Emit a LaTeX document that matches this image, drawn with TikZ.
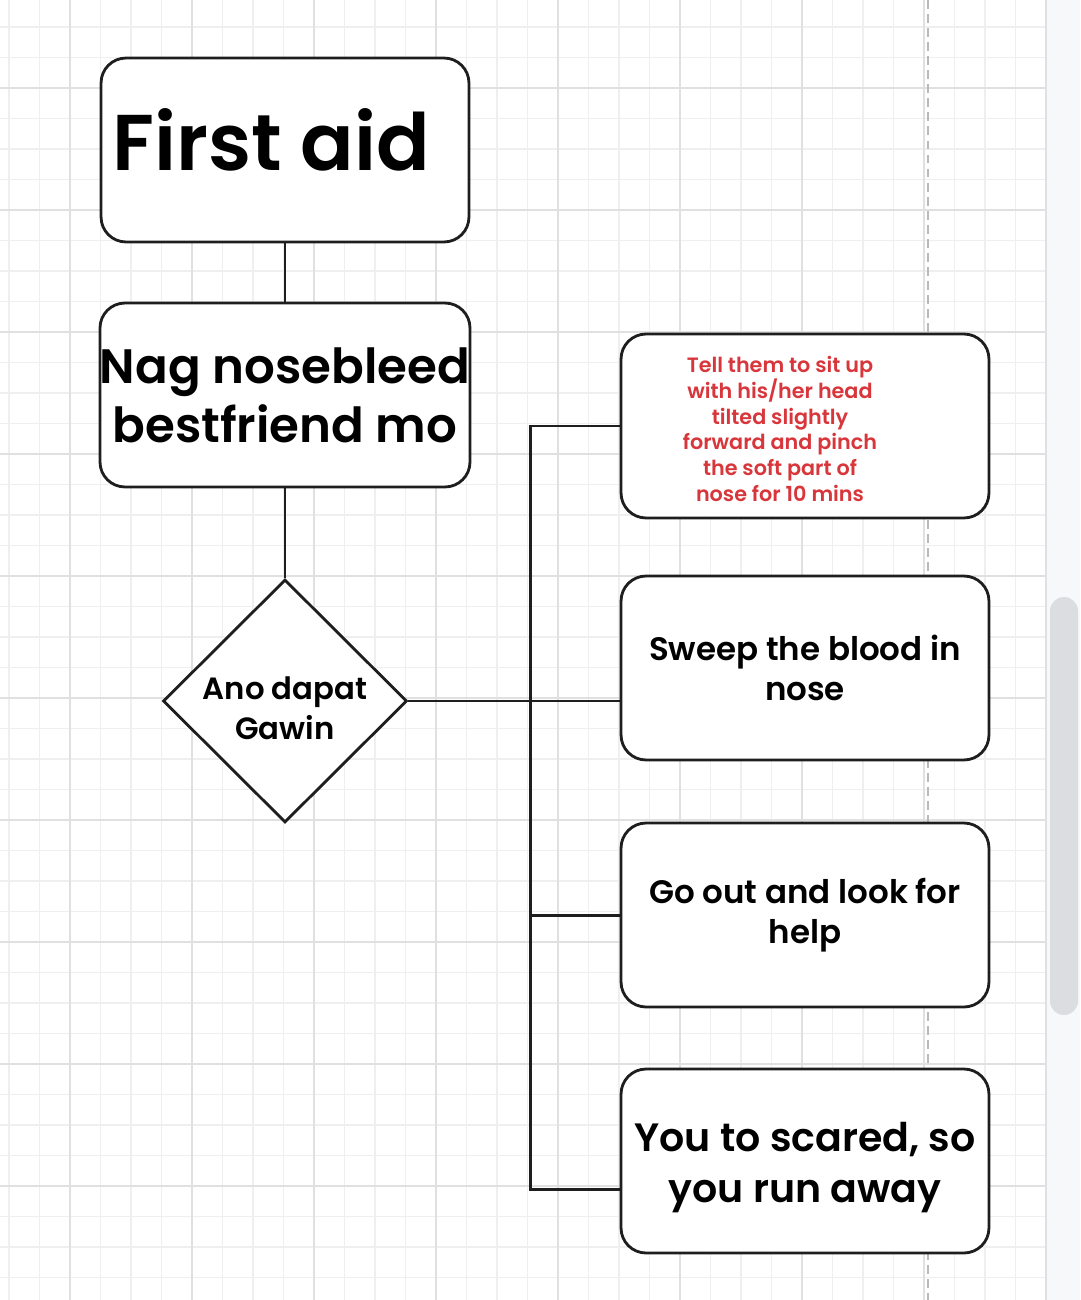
\documentclass[tikz,border=0pt]{standalone}
\usepackage{fontspec}
\setmainfont{Poppins}[BoldFont={Poppins SemiBold}]
\usepackage{tikz}
\usetikzlibrary{positioning, shapes.geometric, calc}
\definecolor{gridmaj}{HTML}{E0E0E2}
\definecolor{gridmin}{HTML}{EFEFF1}
\definecolor{redtxt}{HTML}{D8363B}
\definecolor{edge}{HTML}{1E1E1E}
\definecolor{sidebar}{HTML}{F7F8FA}
\definecolor{thumb}{HTML}{DCDDE1}

\begin{document}
\begin{tikzpicture}[x=0.02cm, y=-0.02cm,
    box/.style={rectangle, rounded corners=0.5cm, draw=edge, line width=1.6pt, fill=white, minimum width=7.36cm, minimum height=3.68cm, inner sep=0pt, align=center},
    decision/.style={diamond, draw=edge, line width=1.6pt, fill=white, minimum width=4.88cm, minimum height=4.86cm, inner sep=0pt, align=center},
    conn/.style={draw=edge, line width=1.7pt}]
    \useasboundingbox (0,0) rectangle (1080,1300);
    % Grid
    \begin{scope}
        \clip (0,0) rectangle (1047,1300);
        \foreach \i in {-2,...,32}
            \draw[gridmin, line width=0.8pt] (70+30.5*\i,0) -- (70+30.5*\i,1300);
        \foreach \j in {-2,...,39}
            \draw[gridmin, line width=0.8pt] (0,88+30.5*\j) -- (1047,88+30.5*\j);
        \foreach \i in {0,4,...,32}
            \draw[gridmaj, line width=1pt] (70+30.5*\i,0) -- (70+30.5*\i,1300);
        \foreach \j in {0,4,...,36}
            \draw[gridmaj, line width=1pt] (0,88+30.5*\j) -- (1047,88+30.5*\j);
    \end{scope}
    \draw[gray!55, line width=1pt, dash pattern=on 5pt off 3pt] (928,0) -- (928,1300);
    \fill[sidebar] (1047,0) rectangle (1080,1300);
    \fill[thumb, rounded corners=0.28cm] (1050,597) rectangle (1078,1015);

    % Nodes
    \node[box, font=\bfseries\fontsize{45}{50}\selectfont] (head) at (285,150) {First aid\hspace*{0.56cm}\rule[-0.4cm]{0pt}{0.1pt}};
    \node[box, font=\bfseries\fontsize{27.5}{33.4}\selectfont] (cause) at (285,395) {Nag nosebleed\\bestfriend mo};
    \node[decision, font=\bfseries\fontsize{17.5}{22.7}\selectfont] (ask) at (285,701) {\rule{0pt}{21pt}Ano dapat\\Gawin};
    \node[box] (act1) at (805,426) {};
    \node[align=center, text=redtxt, font=\bfseries\fontsize{11.8}{14.7}\selectfont] (act1txt) at (780,429) {Tell them to sit up\\with his/her head\\tilted slightly\\forward and pinch\\the soft part of\\nose for 10 mins};
    \node[box, font=\bfseries\fontsize{18.5}{23}\selectfont] (act2) at (805,668) {Sweep the blood in\\nose};
    \node[box, font=\bfseries\fontsize{18.5}{23}\selectfont] (act3) at (805,915) {Go out and look for\\help};
    \node[box, font=\bfseries\fontsize{22.5}{29.5}\selectfont] (act4) at (805,1161) {\rule{0pt}{24pt}You to scared, so\\you run away};

    % Connectors
    \coordinate (bus) at (530,0);
    \draw[conn] (head) -- (cause);
    \draw[conn] (cause) -- (ask);
    \draw[conn] (ask.east) -- (ask.east -| act2.west);
    \draw[conn] (act1.west) -- (act1.west -| bus) |- ($(act4.west)+(0,28)$);
    \draw[conn] (act3.west) -- (act3.west -| bus);
\end{tikzpicture}
\end{document}
